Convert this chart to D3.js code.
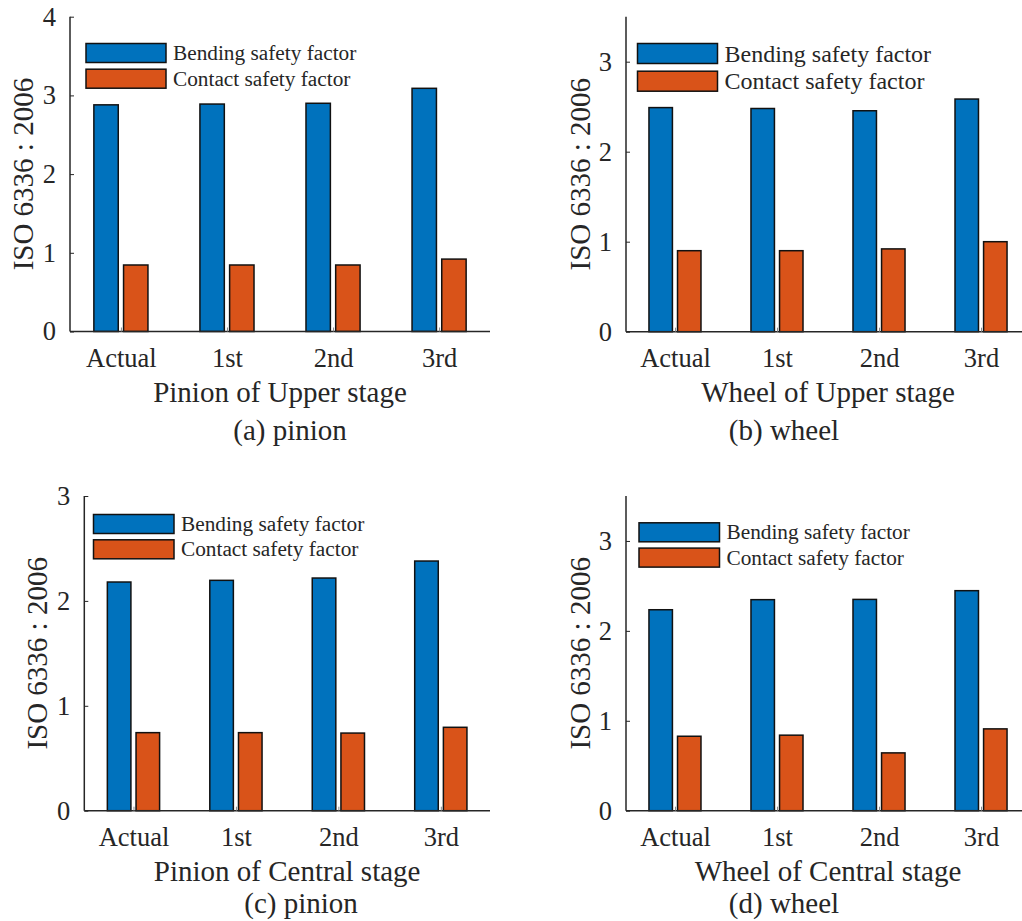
<!DOCTYPE html>
<html>
<head>
<meta charset="utf-8">
<script src="https://cdn.jsdelivr.net/npm/d3@7"></script>
<style>
  html, body { margin: 0; padding: 0; background: #fff; }
  svg { display: block; }
  text { font-family: "Liberation Serif", "Times New Roman", serif; fill: #262626; }
</style>
</head>
<body>
<svg id="chart" width="1022" height="921"></svg>
<script>
// Gear safety factors (ISO 6336:2006) for the actual design and three optimised designs
const categories = ["Actual", "1st", "2nd", "3rd"];
const seriesNames = ["Bending safety factor", "Contact safety factor"];
const seriesColors = ["#0072BD", "#D95319"];

const pinionUpperBending   = [2.88, 2.89, 2.90, 3.09];
const pinionUpperContact   = [0.845, 0.845, 0.845, 0.92];
const wheelUpperBending    = [2.49, 2.48, 2.455, 2.585];
const wheelUpperContact    = [0.90, 0.90, 0.92, 1.00];
const pinionCentralBending = [2.18, 2.196, 2.218, 2.38];
const pinionCentralContact = [0.744, 0.744, 0.74, 0.795];
const wheelCentralBending  = [2.235, 2.347, 2.35, 2.447];
const wheelCentralContact  = [0.828, 0.84, 0.643, 0.91];

const yTicksA = [0, 1, 2, 3, 4];
const yTicksB = [0, 1, 2, 3];
const yTicksC = [0, 1, 2, 3];
const yTicksD = [0, 1, 2, 3];

const xLabels = ["Pinion of Upper stage", "Wheel of Upper stage", "Pinion of Central stage", "Wheel of Central stage"];
const captions = ["(a) pinion", "(b) wheel", "(c) pinion", "(d) wheel"];
const yLabel = "ISO 6336 : 2006";

// Panel geometry (pixels) and axis limits
const panels = [
  { series: [pinionUpperBending, pinionUpperContact], ticks: yTicksA, yMax: 4,
    x0: 70, x1: 490, yTop: 16.7, yBottom: 331.5, ylabX: 33, capX: 290, capY: 440,
    legX: 86, legY: 43.5, legW: 80, legH: 19, legStep: 25.7, legFont: 21.3, xlabel: xLabels[0], caption: captions[0] },
  { series: [wheelUpperBending, wheelUpperContact], ticks: yTicksB, yMax: 3.5,
    x0: 626, x1: 1030, yTop: 16.7, yBottom: 331.7, ylabX: 590, capX: 784, capY: 440,
    legX: 637.5, legY: 43.5, legW: 80, legH: 20, legStep: 27.7, legFont: 24, xlabel: xLabels[1], caption: captions[1] },
  { series: [pinionCentralBending, pinionCentralContact], ticks: yTicksC, yMax: 3,
    x0: 84.3, x1: 490, yTop: 496, yBottom: 810.7, ylabX: 47, capX: 301, capY: 913,
    legX: 93.5, legY: 514.5, legW: 80.5, legH: 19, legStep: 25.3, legFont: 21.3, xlabel: xLabels[2], caption: captions[2] },
  { series: [wheelCentralBending, wheelCentralContact], ticks: yTicksD, yMax: 3.5,
    x0: 626, x1: 1030, yTop: 496, yBottom: 810.7, ylabX: 590, capX: 784, capY: 913,
    legX: 639, legY: 522.8, legW: 80.5, legH: 19, legStep: 25.3, legFont: 21.3, xlabel: xLabels[3], caption: captions[3] }
];

const svg = d3.select("#chart");
const axisColor = "#262626";
const barWidth = 0.23;   // in category units
const barOffset = 0.14;  // centre offset of each series from the category centre

panels.forEach(p => {
  const g = svg.append("g");
  const x = d3.scaleLinear().domain([0.52, 4.48]).range([p.x0, p.x1]);
  const y = d3.scaleLinear().domain([0, p.yMax]).range([p.yBottom, p.yTop]);

  // bars
  p.series.forEach((vals, s) => {
    const off = s === 0 ? -barOffset : barOffset;
    g.selectAll(null).data(vals).enter().append("rect")
      .attr("x", (d, i) => x(i + 1 + off - barWidth / 2))
      .attr("width", x(barWidth) - x(0))
      .attr("y", d => y(d))
      .attr("height", d => y(0) - y(d))
      .attr("fill", seriesColors[s])
      .attr("stroke", "#111")
      .attr("stroke-width", 1.5);
  });

  // y axis (ticks point inward)
  const yAxis = d3.axisLeft(y).tickValues(p.ticks).tickFormat(d3.format("d")).tickSize(-4).tickPadding(14);
  const ya = g.append("g").attr("transform", `translate(${p.x0},0)`).call(yAxis);
  ya.select(".domain").attr("d", `M0,${p.yTop}V${p.yBottom}`).attr("stroke", axisColor).attr("stroke-width", 1.5);
  ya.selectAll(".tick line").attr("stroke", axisColor).attr("stroke-width", 1);
  ya.selectAll(".tick text").attr("font-size", 26.5).attr("fill", axisColor)
    .attr("font-family", "Liberation Serif, Times New Roman, serif");

  // x axis (category ticks point inward)
  const xAxis = d3.axisBottom(x).tickValues([1, 2, 3, 4]).tickFormat(d => categories[d - 1]).tickSize(-4).tickPadding(14);
  const xa = g.append("g").attr("transform", `translate(0,${p.yBottom})`).call(xAxis);
  xa.select(".domain").attr("d", `M${p.x0},0H${p.x1}`).attr("stroke", axisColor).attr("stroke-width", 1.5);
  xa.selectAll(".tick line").attr("stroke", "#888").attr("stroke-width", 1);
  xa.selectAll(".tick text").attr("font-size", 26.5).attr("fill", axisColor)
    .attr("font-family", "Liberation Serif, Times New Roman, serif")
    .attr("dy", null).attr("y", 35.5).attr("dominant-baseline", "auto");

  // axis titles
  const xc = (p.x0 + p.x1) / 2;
  g.append("text").attr("x", xc).attr("y", p.yBottom + 70.5)
    .attr("text-anchor", "middle").attr("font-size", 29).text(p.xlabel);
  g.append("text")
    .attr("transform", `translate(${p.ylabX},${(p.yTop + p.yBottom) / 2}) rotate(-90)`)
    .attr("text-anchor", "middle").attr("font-size", 29).text(yLabel);

  // caption
  g.append("text").attr("x", p.capX).attr("y", p.capY)
    .attr("text-anchor", "middle").attr("font-size", 29).text(p.caption);

  // legend
  seriesNames.forEach((name, s) => {
    const ly = p.legY + s * p.legStep;
    g.append("rect").attr("x", p.legX).attr("y", ly).attr("width", p.legW).attr("height", p.legH)
      .attr("fill", seriesColors[s]).attr("stroke", "#111").attr("stroke-width", 1.5);
    g.append("text").attr("x", p.legX + p.legW + 7).attr("y", ly + p.legH / 2)
      .attr("dominant-baseline", "central").attr("font-size", p.legFont).text(name);
  });
});
</script>
</body>
</html>
